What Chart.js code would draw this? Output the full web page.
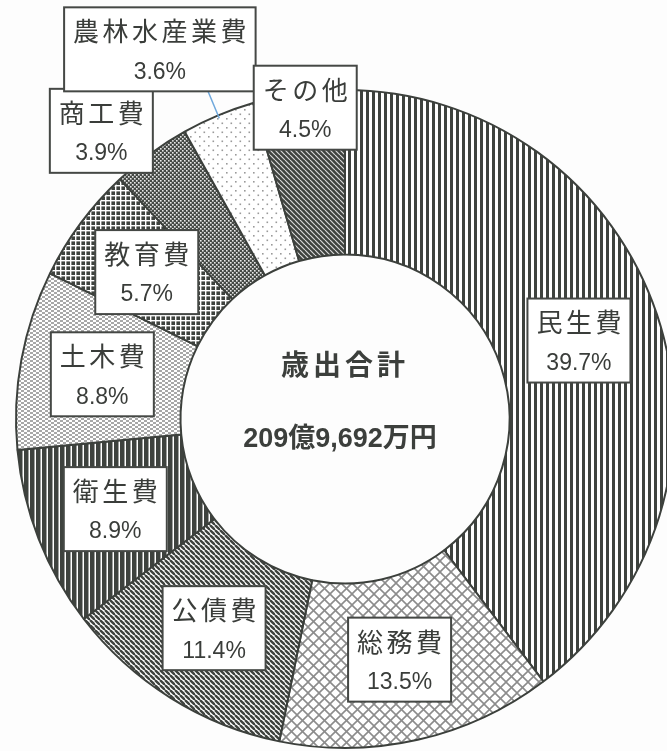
<!DOCTYPE html>
<html>
<head>
<meta charset="utf-8">
<script src="https://cdn.jsdelivr.net/npm/chart.js@4"></script>
<style>
  html, body { margin: 0; padding: 0; background: #fdfdfd; overflow: hidden; }
  #wrap { width: 667px; height: 751px; overflow: hidden; position: relative; }
</style>
</head>
<body>
<div id="wrap"><canvas id="c" width="690" height="751"></canvas></div>
<script>
// ---- data ----
const categories = ['民生費', '総務費', '公債費', '衛生費', '土木費', '教育費', '商工費', '農林水産業費', 'その他'];
const shares = [39.7, 13.5, 11.4, 8.9, 8.8, 5.7, 3.9, 3.6, 4.5];
const centerTitle = '歳出合計';
const centerTotal = '209億9,692万円';

// ---- patterns ----
const DARK = '#3e423e';
function makePattern(w, h, draw) {
  const c = document.createElement('canvas');
  c.width = w; c.height = h;
  const x = c.getContext('2d');
  draw(x, w, h);
  return x.createPattern(c, 'repeat');
}
function diag(x, w, h, color, lw) {
  x.strokeStyle = color; x.lineWidth = lw;
  for (let k = -1; k <= 1; k++) {
    x.beginPath(); x.moveTo(k * w, 0); x.lineTo(k * w + w, h); x.stroke();
  }
}
const patterns = [
  // 民生費: vertical stripes
  makePattern(6, 6, (x) => { x.fillStyle = '#fff'; x.fillRect(0,0,6,6); x.fillStyle = DARK; x.fillRect(0,0,3,6); }),
  // 総務費: diagonal crosshatch
  makePattern(11, 11, (x, w, h) => {
    x.fillStyle = '#fff'; x.fillRect(0,0,w,h);
    x.strokeStyle = '#8c8c8c'; x.lineWidth = 1.6;
    for (let k = -1; k <= 1; k++) {
      x.beginPath(); x.moveTo(k*w, 0); x.lineTo(k*w + w, h); x.stroke();
      x.beginPath(); x.moveTo(k*w + w, 0); x.lineTo(k*w, h); x.stroke();
    }
  }),
  // 公債費: "\" stripes on white
  makePattern(5, 5, (x, w, h) => { x.fillStyle = '#fff'; x.fillRect(0,0,w,h); diag(x, w, h, DARK, 2.4); }),
  // 衛生費: thick dark vertical stripes
  makePattern(6, 6, (x) => { x.fillStyle = '#fff'; x.fillRect(0,0,6,6); x.fillStyle = DARK; x.fillRect(0,0,4.5,6); }),
  // 土木費: light checker dashes
  makePattern(6, 4, (x) => { x.fillStyle = '#fff'; x.fillRect(0,0,6,4); x.fillStyle = '#a8a8a8'; x.fillRect(0,0,3,2); x.fillRect(3,2,3,2); }),
  // 教育費: grid
  makePattern(5, 5, (x) => { x.fillStyle = DARK; x.fillRect(0,0,5,5); x.fillStyle = '#fff'; x.fillRect(0,0,5,1.4); x.fillRect(0,0,1.4,5); }),
  // 商工費: fine checker (dark)
  makePattern(4, 4, (x) => { x.fillStyle = '#454945'; x.fillRect(0,0,4,4); x.fillStyle = '#e8e8e8'; x.fillRect(0,0,1.6,1.6); x.fillRect(2,2,1.6,1.6); }),
  // 農林水産業費: sparse dots
  makePattern(9, 9, (x) => { x.fillStyle = '#fff'; x.fillRect(0,0,9,9); x.fillStyle = '#9a9a9a'; x.fillRect(1,1,1.6,1.6); x.fillRect(5.5,5.5,1.6,1.6); }),
  // その他: dark "\" stripes
  makePattern(5, 5, (x, w, h) => { x.fillStyle = DARK; x.fillRect(0,0,w,h); diag(x, w, h, '#d8d8d8', 1.2); })
];

// ---- label plugin ----
const labelShift = { 6: [-98, -89], 7: [-90, -142], 8: [-5, -67] };
const leaderFor = 7;
const NAME_FONT = '26px "Noto Sans CJK JP"';
const NAME_SP = 3.5;
const PCT_FONT = '23px "Liberation Sans"';
const labelPlugin = {
  id: 'boxLabels',
  afterDatasetsDraw(chart) {
    const ctx = chart.ctx;
    const meta = chart.getDatasetMeta(0);
    ctx.save();
    // leader line
    const la = meta.data[leaderFor];
    const a = (la.startAngle + la.endAngle) / 2;
    ctx.strokeStyle = '#6fa8dc'; ctx.lineWidth = 1.5;
    ctx.beginPath();
    ctx.moveTo(la.x + (la.outerRadius + 32) * Math.cos(a), la.y + (la.outerRadius + 32) * Math.sin(a));
    ctx.lineTo(la.x + (la.outerRadius - 3) * Math.cos(a), la.y + (la.outerRadius - 3) * Math.sin(a));
    ctx.stroke();

    meta.data.forEach((arc, i) => {
      const p = arc.getCenterPoint();
      const sh = labelShift[i] || [0, 0];
      const cx = p.x + sh[0], cy = p.y + sh[1];
      const name = categories[i];
      const pct = shares[i].toFixed(1) + '%';
      ctx.font = NAME_FONT;
      ctx.letterSpacing = NAME_SP + 'px';
      const nw = ctx.measureText(name).width - NAME_SP;
      ctx.letterSpacing = '0px';
      ctx.font = PCT_FONT;
      const pw = ctx.measureText(pct).width;
      const bw = Math.max(nw, pw) + 18, bh = 84;
      ctx.fillStyle = '#ffffff';
      ctx.fillRect(cx - bw / 2, cy - bh / 2, bw, bh);
      ctx.strokeStyle = '#454845'; ctx.lineWidth = 2;
      ctx.strokeRect(cx - bw / 2, cy - bh / 2, bw, bh);
      ctx.fillStyle = '#3a3d3a';
      ctx.textAlign = 'center'; ctx.textBaseline = 'middle';
      ctx.font = NAME_FONT;
      ctx.letterSpacing = NAME_SP + 'px';
      ctx.fillText(name, cx + NAME_SP / 2, cy - 18);
      ctx.letterSpacing = '0px';
      ctx.font = PCT_FONT;
      ctx.fillText(pct, cx, cy + 23);
    });

    // center text
    const c0 = meta.data[0];
    ctx.fillStyle = '#3c3f3c';
    ctx.textAlign = 'center'; ctx.textBaseline = 'middle';
    ctx.font = 'bold 28px "Noto Sans CJK JP"';
    ctx.letterSpacing = '4px';
    ctx.fillText(centerTitle, c0.x, c0.y - 55);
    ctx.letterSpacing = '0px';
    ctx.font = 'bold 27px "Liberation Sans", "Noto Sans CJK JP"';
    ctx.fillText(centerTotal, c0.x - 5, c0.y + 21);
    ctx.restore();
  }
};

new Chart(document.getElementById('c'), {
  type: 'doughnut',
  data: {
    labels: categories,
    datasets: [{
      data: shares,
      backgroundColor: patterns,
      borderColor: '#3c403c',
      borderWidth: 2,
      hoverOffset: 0
    }]
  },
  options: {
    responsive: false,
    maintainAspectRatio: false,
    animation: false,
    cutout: '50%',
    layout: { padding: { left: 15, right: 15, top: 89, bottom: 2 } },
    plugins: { legend: { display: false }, tooltip: { enabled: false } }
  },
  plugins: [labelPlugin]
});
</script>
</body>
</html>
